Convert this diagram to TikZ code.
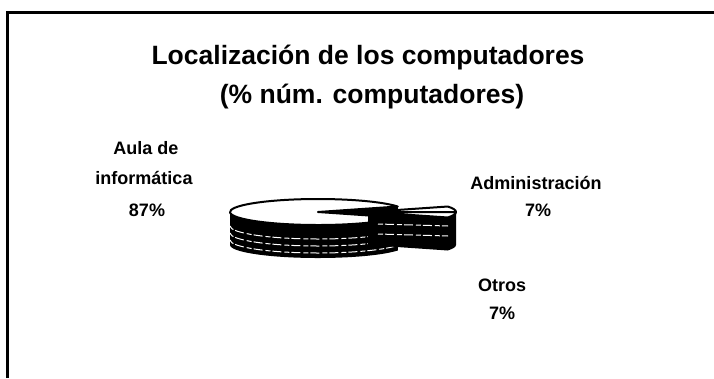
\documentclass[tikz,border=0pt]{standalone}
\usepackage{fontspec}
\setmainfont{Liberation Sans}
\begin{document}
\begin{tikzpicture}[x=1pt,y=-1pt,
  lbl/.style={font=\fontsize{18}{22}\selectfont\bfseries, inner sep=0pt, anchor=base},
  ttl/.style={font=\fontsize{26.5}{30}\selectfont\bfseries, inner sep=0pt, anchor=base},
  side/.style={fill=black},
  topf/.style={fill=white, draw=black, line width=2pt, line join=round},
  streak/.style={white, line width=1pt, dash pattern=on 5pt off 2pt on 9pt off 3pt}]
\useasboundingbox (0,0) rectangle (714,378);
% frame
\draw[line width=3pt] (7,378) -- (7,12) -- (714,12);
% title
\node[ttl] (title1) at (368,64) {Localización de los computadores};
\node[ttl] (title2) at (372,103) {(\% núm. computadores)};
% labels
\node[lbl] (aula1) at (146,154) {Aula de};
\node[lbl] (aula2) at (144,184) {informática};
\node[lbl] (aula3) at (147,216) {87\%};
\node[lbl] (adm1) at (536,189) {Administración};
\node[lbl] (adm2) at (538,216) {7\%};
\node[lbl] (otr1) at (502,291) {Otros};
\node[lbl] (otr2) at (502,319) {7\%};
% pie
\begin{scope}[shift={(318,212)}, yscale=-1]
  % cut face of main pie at 25 deg
  \fill[side] (0,0) -- (25:88 and 13) -- ++(0,-33) -- (0,-33) -- cycle;
  % outer front face
  \fill[side] (180:88 and 13) arc[start angle=180, end angle=335, x radius=88, y radius=13]
     -- ++(0,-33) arc[start angle=335, end angle=180, x radius=88, y radius=13] -- cycle;
  \begin{scope}
    \clip (180:88 and 13) arc[start angle=180, end angle=335, x radius=88, y radius=13]
     -- ++(0,-33) arc[start angle=335, end angle=180, x radius=88, y radius=13] -- cycle;
    \foreach \d in {-14,-21,-28}
      \draw[streak] (180:88 and 13) ++(0,\d) arc[start angle=180, end angle=335, x radius=88, y radius=13];
  \end{scope}
  % top face
  \filldraw[topf] (0,0) -- (25:88 and 13) arc[start angle=25, end angle=335, x radius=88, y radius=13] -- cycle;
  % exploded slices
  \begin{scope}[shift={(50,0)}]
    % Administracion slice (0..25)
    \fill[side] (0,0) -- (0:88 and 13) -- ++(0,-33) -- (0,-33) -- cycle;
    \filldraw[topf] (0,0) -- (0:88 and 13) arc[start angle=0, end angle=25, x radius=88, y radius=13] -- cycle;
    % Otros slice (-25..0)
    \fill[side] (0,0) -- (-25:88 and 13) -- ++(0,-33) -- (0,-33) -- cycle;
    \fill[side] (-25:88 and 13) arc[start angle=-25, end angle=0, x radius=88, y radius=13]
      -- ++(0,-33) arc[start angle=0, end angle=-25, x radius=88, y radius=13] -- cycle;
    \filldraw[topf] (0,0) -- (-25:88 and 13) arc[start angle=-25, end angle=0, x radius=88, y radius=13] -- cycle;
    \draw[streak] (10,-12) -- (80,-14);
    \draw[streak] (10,-22) -- (80,-24);
  \end{scope}
\end{scope}
\end{tikzpicture}
\end{document}
